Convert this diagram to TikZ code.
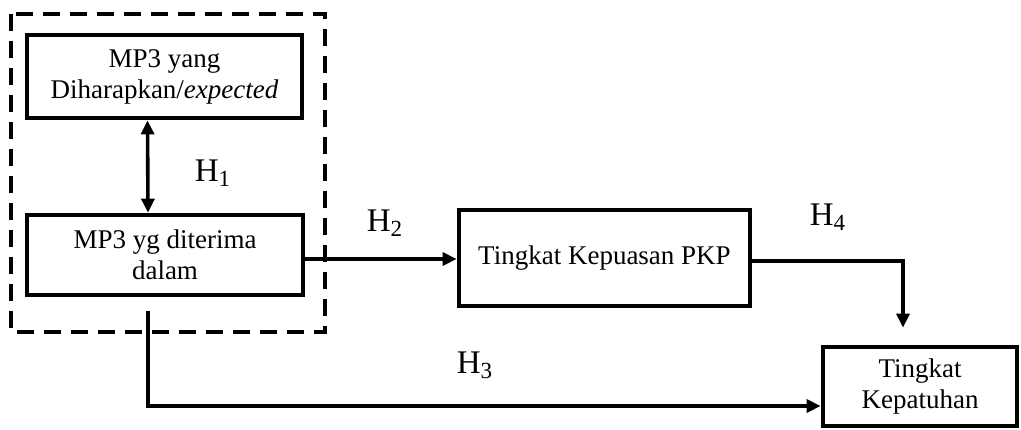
\documentclass[tikz,border=0pt]{standalone}
\usepackage{fontspec}
\setmainfont{Liberation Serif}
\usetikzlibrary{arrows.meta,calc}

\tikzset{
  tip/.tip={Triangle[length=7pt,width=6.5pt]},
  varbox/.style={draw,line width=2.4pt,align=center,inner sep=2pt,
    font=\fontsize{13.5}{15.5}\selectfont},
  conn/.style={line width=1.8pt,arrows={-tip}},
  hyp/.style={font=\fontsize{16.5}{18}\selectfont},
}

\begin{document}
\begin{tikzpicture}[x=0.5pt,y=-0.5pt]
\useasboundingbox (0,0) rectangle (1021,429);
%\draw[step=50,gray,very thin] (0,0) grid (1021,429); %background grid

% group around the two MP3 boxes
\draw[line width=1.6pt,dash pattern=on 8.5pt off 5pt] (11,14) rectangle (325,332);

\node[varbox,minimum width=137.5pt,minimum height=41.5pt] (exp) at (164.5,76.5)
  {MP3 yang\\Diharapkan/\textit{expected}};
\node[varbox,minimum width=138pt,minimum height=40pt] (rcv) at (165,255)
  {MP3 yg diterima\\dalam};
\node[varbox,minimum width=145.5pt,minimum height=48pt] (sat) at (604.5,258)
  {Tingkat Kepuasan PKP};
\node[varbox,minimum width=97pt,minimum height=39.5pt] (cmp) at (920,386.5)
  {Tingkat\\Kepatuhan};

\coordinate (bend) at (148,406);
\coordinate (out2) at ($(rcv.east)+(0,4)$);
\coordinate (out4) at ($(sat.east)+(0,3)$);
\coordinate (in4) at ($(cmp.north)+(-17,0)$);

\draw[conn,tip-tip] ($(exp.south)+(-17,0)$) -- ($(rcv.north)+(-17,0)$);
\draw[conn] (out2) -- (out2 -| sat.west);
\draw[conn,shorten >=8.5pt] (out4) -| (in4);
\draw[conn,shorten <=7pt] (rcv.south -| bend) -- (bend) -- (bend -| cmp.west);

\node[hyp] (h1) at (213,173) {H\textsubscript{1}};
\node[hyp] (h2) at (385,223) {H\textsubscript{2}};
\node[hyp] (h3) at (475,365) {H\textsubscript{3}};
\node[hyp] (h4) at (828,217) {H\textsubscript{4}};
\end{tikzpicture}
\end{document}
